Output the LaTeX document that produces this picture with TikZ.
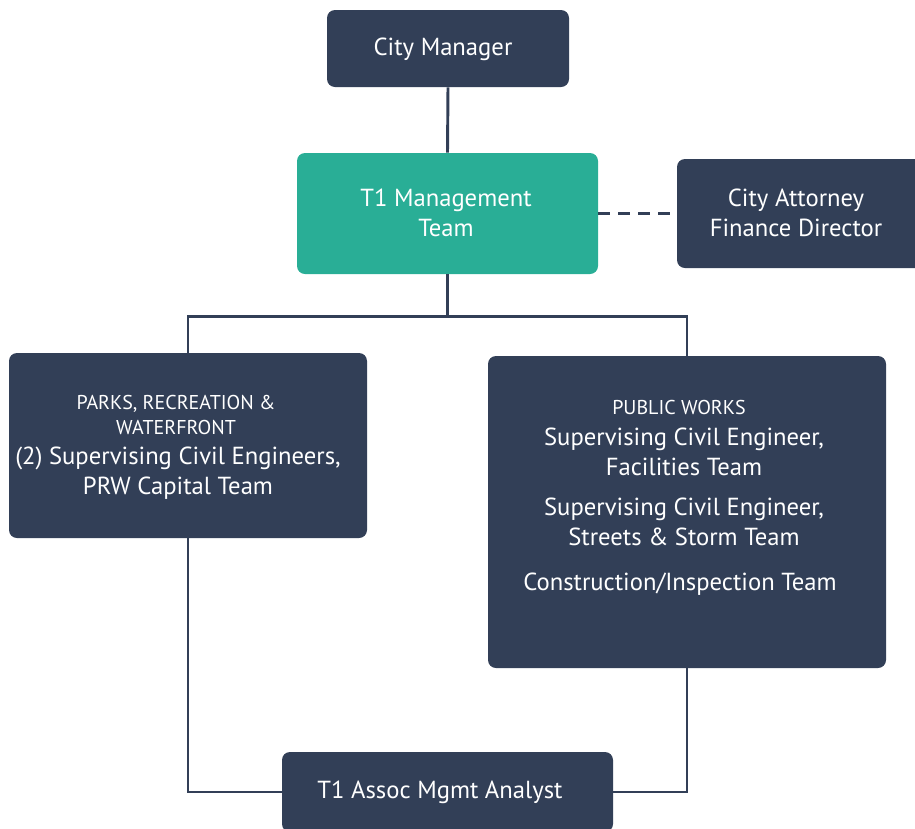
\documentclass[tikz,border=0pt]{standalone}
\usepackage{fontspec}
\setmainfont{PT Sans}
\definecolor{navy}{HTML}{323F57}
\definecolor{teal}{HTML}{29AE96}
\begin{document}
\begin{tikzpicture}[x=0.75pt,y=-0.75pt,
  box/.style={fill=navy, rounded corners=6pt, inner sep=0pt},
  lead/.style={fill=teal, rounded corners=6pt, inner sep=0pt},
  big/.style={text=white, font=\fontsize{18.5pt}{22.5pt}\selectfont, align=center, inner sep=0pt},
  small/.style={text=white, font=\fontsize{15pt}{18.75pt}\selectfont, align=center, inner sep=0pt},
  link/.style={draw=navy, line width=2.2pt},
  dotlink/.style={draw=navy, line width=2.2pt, dash pattern=on 9pt off 6pt}]
\useasboundingbox (0,0) rectangle (915,829);
\clip (0,0) rectangle (915,829);

% boxes
\node[box, minimum width=242*0.75pt, minimum height=77*0.75pt] (cm) at (448,48.5) {};
\node[big] (cmtext) at (443,49) {City Manager};

\node[lead, minimum width=301*0.75pt, minimum height=121*0.75pt] (t1) at (447.5,213.5) {};
\node[big] (t1text) at (446,213) {T1 Management\\Team};

\node[box, minimum width=250*0.75pt, minimum height=109*0.75pt] (legal) at (802,213.5) {};
\node[big] (legaltext) at (796,213) {City Attorney\\Finance Director};

\node[box, minimum width=358*0.75pt, minimum height=185*0.75pt] (parks) at (188,445.5) {};
\node[small] (parkshead) at (176,414.5) {PARKS, RECREATION \&\\WATERFRONT};
\node[big] (parksbody) at (178,473) {(2) Supervising Civil Engineers,\\PRW Capital Team};

\node[box, minimum width=398*0.75pt, minimum height=312*0.75pt] (pw) at (687,512) {};
\node[small] (pwhead) at (679,407) {PUBLIC WORKS};
\node[big] (pwfac) at (684,452) {Supervising Civil Engineer,\\Facilities Team};
\node[big] (pwst) at (684,522) {Supervising Civil Engineer,\\Streets \& Storm Team};
\node[big] (pwci) at (680,584) {Construction/Inspection Team};

\node[box, minimum width=331*0.75pt, minimum height=80*0.75pt] (analyst) at (447.5,792) {};
\node[big] (analysttext) at (440,792) {T1 Assoc Mgmt Analyst};

% connectors
\draw[link] (cm.south) -- (t1.north);
\draw[link] (t1.south) -- ++(0,42) coordinate (split);
\draw[link] (split) -| (parks.north);
\draw[link] (split) -| (pw.north);
\draw[dotlink] (t1.east) -- (legal.west);
\draw[link] (parks.south) |- (analyst.west);
\draw[link] (pw.south) |- (analyst.east);
\end{tikzpicture}
\end{document}
